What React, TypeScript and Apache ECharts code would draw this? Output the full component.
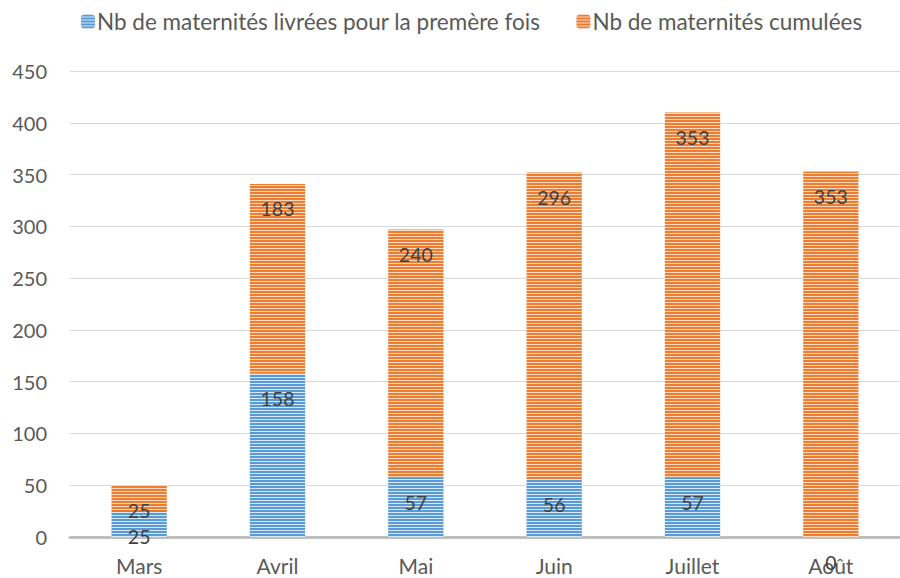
import React, { useEffect, useRef } from "react";
import * as echarts from "echarts";

const categories = ["Mars", "Avril", "Mai", "Juin", "Juillet", "Août"];
const premiereFois = [25, 158, 57, 56, 57, 0];
const cumulees = [25, 183, 240, 296, 353, 353];
const seriesNames = ["Nb de maternités livrées pour la premère fois", "Nb de maternités cumulées"];

function stripe(color: string, light: string) {
  const c = document.createElement("canvas");
  c.width = 4;
  c.height = 3;
  const ctx = c.getContext("2d")!;
  ctx.fillStyle = color;
  ctx.fillRect(0, 0, 4, 2);
  ctx.fillStyle = light;
  ctx.fillRect(0, 2, 4, 1);
  return { image: c, repeat: "repeat" } as any;
}

export default function App() {
  const ref = useRef<HTMLDivElement>(null);
  useEffect(() => {
    const chart = echarts.init(ref.current!, null, { renderer: "svg" });
    const font = "Lato, 'Open Sans', sans-serif";
    const blue = stripe("#5B9BD5", "#D6E6F5");
    const orange = stripe("#ED7D31", "#FAD7BF");
    const label = {
      show: true,
      position: "insideTop",
      distance: 15,
      fontSize: 19.5,
      color: "#404040",
      fontFamily: font,
    };
    chart.setOption({
      animation: false,
      textStyle: { fontFamily: font },
      legend: {
        left: 76,
        top: 5,
        itemWidth: 14,
        itemHeight: 14,
        itemGap: 36,
        textStyle: { fontSize: 22.5, color: "#595959", fontFamily: font, padding: [0, 0, 0, -3] },
        data: seriesNames,
      },
      grid: { left: 70, right: -4, top: 71, bottom: 41 },
      xAxis: {
        type: "category",
        data: categories,
        axisLine: { lineStyle: { color: "#BFBFBF", width: 3 } },
        axisTick: { show: false },
        axisLabel: { fontSize: 21, lineHeight: 21, color: "#595959", margin: 18, fontFamily: font },
      },
      yAxis: {
        type: "value",
        min: 0,
        max: 450,
        interval: 50,
        axisLine: { show: false },
        axisTick: { show: false },
        splitLine: { lineStyle: { color: "#D9D9D9", width: 1 } },
        axisLabel: { fontSize: 20, color: "#595959", margin: 23, fontFamily: font },
      },
      series: [
        {
          name: seriesNames[0],
          type: "bar",
          stack: "total",
          data: premiereFois,
          barWidth: "40%",
          itemStyle: { color: blue },
          label,
        },
        {
          name: seriesNames[1],
          type: "bar",
          stack: "total",
          data: cumulees,
          barWidth: "40%",
          itemStyle: { color: orange },
          label,
        },
      ],
    });
    return () => chart.dispose();
  }, []);
  return (
    <div
      ref={ref}
      style={{ position: "fixed", left: 0, top: 0, width: 900, height: 578, background: "#fff" }}
    />
  );
}
